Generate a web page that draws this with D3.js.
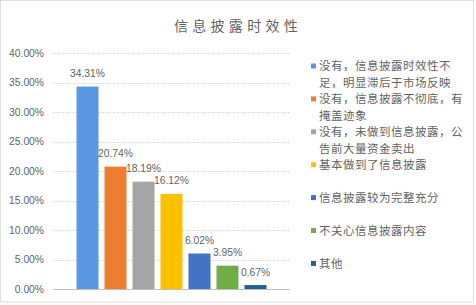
<!DOCTYPE html>
<html>
<head>
<meta charset="utf-8">
<script src="https://cdn.jsdelivr.net/npm/d3@7"></script>
<style>
  html, body { margin: 0; padding: 0; background: #fff; }
  svg { display: block; font-family: "Liberation Sans", "Noto Sans CJK SC", sans-serif; }
</style>
</head>
<body>
<svg id="chart" width="476" height="305"></svg>
<script>
// ── data ──
const title = '信息披露时效性';
const categories = [
  '没有，信息披露时效性不\n足，明显滞后于市场反映',
  '没有，信息披露不彻底，有\n掩盖迹象',
  '没有，未做到信息披露，公\n告前大量资金卖出',
  '基本做到了信息披露',
  '信息披露较为完整充分',
  '不关心信息披露内容',
  '其他'
];
const values = [34.31, 20.74, 18.19, 16.12, 6.02, 3.95, 0.67];
const colors = ['#5B97E2', '#ED7D31', '#A5A5A5', '#FFC000', '#4472C4', '#70AD47', '#255E91'];
const yTicks = [0, 5, 10, 15, 20, 25, 30, 35, 40];

const W = 476, H = 305;
const plot = { left: 53, right: 290, top: 53, bottom: 289 };
const txt = '#636363';

const svg = d3.select('#chart');

// 外枠（点線）
svg.append('rect')
  .attr('x', 0.5).attr('y', 0.5).attr('width', 473).attr('height', 301.5)
  .attr('fill', '#fff').attr('stroke', '#BFBFBF').attr('stroke-dasharray', '1,1');

// タイトル
svg.append('text')
  .attr('x', 238).attr('y', 31)
  .attr('text-anchor', 'middle')
  .attr('font-family', '"Noto Sans CJK SC", sans-serif')
  .attr('font-size', 14).attr('letter-spacing', 4.3)
  .attr('fill', txt)
  .text(title);

const x = d3.scaleBand()
  .domain(d3.range(categories.length))
  .range([plot.left, plot.right])
  .paddingInner(0.214).paddingOuter(0.84);

const y = d3.scaleLinear().domain([0, 40]).range([plot.bottom, plot.top]);

// グリッド線
svg.append('g').selectAll('line').data(yTicks.filter(t => t > 0)).enter().append('line')
  .attr('x1', plot.left).attr('x2', plot.right)
  .attr('y1', d => Math.round(y(d)) + 0.5).attr('y2', d => Math.round(y(d)) + 0.5)
  .attr('stroke', '#C8C8C8').attr('stroke-dasharray', '1,1.5');

// Y軸ラベル
const yAxis = d3.axisLeft(y).tickValues(yTicks).tickSize(0).tickPadding(0)
  .tickFormat(d => d.toFixed(2) + '%');
const yg = svg.append('g').attr('transform', 'translate(44,0)').call(yAxis);
yg.select('.domain').remove();
yg.selectAll('text').attr('fill', txt).attr('font-size', 10.3)
  .attr('font-family', '"Liberation Sans", sans-serif');

// 棒
svg.append('g').selectAll('rect').data(values).enter().append('rect')
  .attr('x', (d, i) => x(i)).attr('width', x.bandwidth())
  .attr('y', d => y(d)).attr('height', d => y(0) - y(d))
  .attr('fill', (d, i) => colors[i]);

// 基線
svg.append('line')
  .attr('x1', plot.left).attr('x2', plot.right)
  .attr('y1', plot.bottom + 0.5).attr('y2', plot.bottom + 0.5)
  .attr('stroke', '#BFBFBF');

// データラベル
svg.append('g').selectAll('text').data(values).enter().append('text')
  .attr('x', (d, i) => x(i) + x.bandwidth() / 2)
  .attr('y', d => y(d) - 9.5)
  .attr('text-anchor', 'middle')
  .attr('font-size', 10.3).attr('fill', txt)
  .text(d => d.toFixed(2) + '%');

// 凡例
const lg = svg.append('g');
categories.forEach((c, i) => {
  const cy = 66 + i * 32.9;
  lg.append('rect')
    .attr('x', 311).attr('y', cy - 2.5).attr('width', 5).attr('height', 5)
    .attr('fill', colors[i]);
  c.split('\n').forEach((line, j) => {
    lg.append('text')
      .attr('x', 319).attr('y', cy + 4.3 + j * 17)
      .attr('font-family', '"Noto Sans CJK SC", sans-serif')
      .attr('font-size', 11.5).attr('letter-spacing', 0.5)
      .attr('fill', txt)
      .text(line);
  });
});
</script>
</body>
</html>
